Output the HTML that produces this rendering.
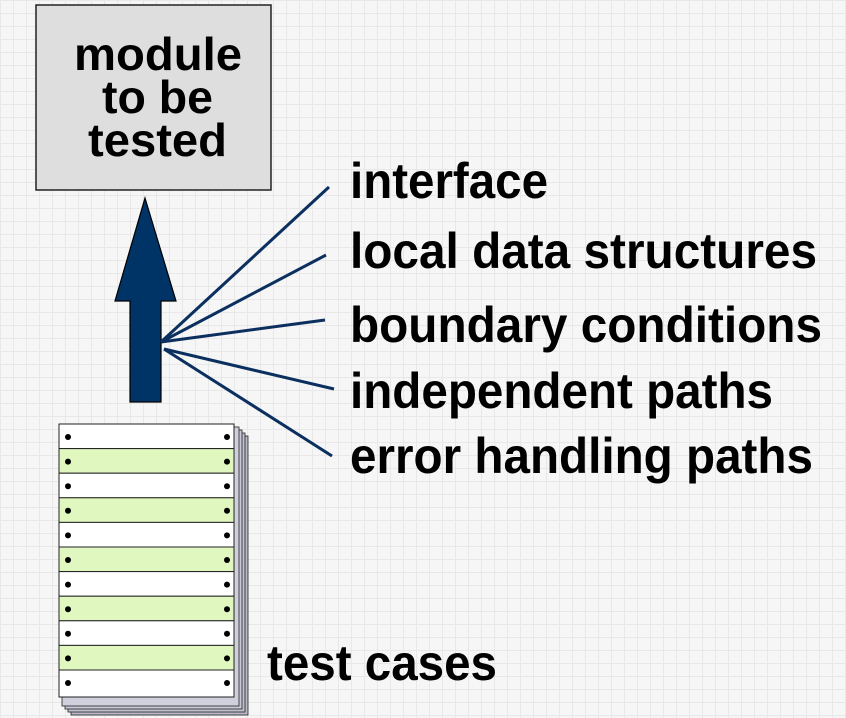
<!DOCTYPE html>
<html><head><meta charset="utf-8"><style>
html,body{margin:0;padding:0}
body{width:846px;height:718px;overflow:hidden;background-color:#f6f6f6;
background-image:linear-gradient(#e8e8e8 1px,transparent 1px),linear-gradient(90deg,#e8e8e8 1px,transparent 1px);background-size:13px 13px;}
</style></head><body>
<svg width="846" height="718" xmlns="http://www.w3.org/2000/svg" style="position:absolute;left:0;top:0">
<rect x="36" y="5" width="235" height="185" fill="#dedede" stroke="#222" stroke-width="1.5"/>
<g font-family="Liberation Sans, sans-serif" font-weight="bold" font-size="46" fill="#000" lengthAdjust="spacingAndGlyphs">
<text x="74" y="70" textLength="168" lengthAdjust="spacingAndGlyphs">module</text>
<text x="102" y="113" textLength="111" lengthAdjust="spacingAndGlyphs">to be</text>
<text x="88" y="156" textLength="139" lengthAdjust="spacingAndGlyphs">tested</text>
</g>
<polygon points="145,198 176,301 161,301 161,402 130,402 130,301 115,301" fill="#003366" stroke="#000" stroke-width="1.2"/>
<g stroke="#0b2f5e" stroke-width="3" fill="none">
<line x1="161" y1="342" x2="329" y2="187"/>
<line x1="161" y1="342" x2="326" y2="255"/>
<line x1="161" y1="342" x2="325" y2="320"/>
<line x1="164" y1="349" x2="334" y2="389"/>
<line x1="164" y1="349" x2="332" y2="456"/>
</g>
<g font-family="Liberation Sans, sans-serif" font-weight="bold" font-size="50" fill="#000">
<text x="350" y="198" textLength="198" lengthAdjust="spacingAndGlyphs">interface</text>
<text x="350" y="268" textLength="467" lengthAdjust="spacingAndGlyphs">local data structures</text>
<text x="350" y="342" textLength="472" lengthAdjust="spacingAndGlyphs">boundary conditions</text>
<text x="350" y="408" textLength="423" lengthAdjust="spacingAndGlyphs">independent paths</text>
<text x="350" y="473" textLength="463" lengthAdjust="spacingAndGlyphs">error handling paths</text>
<text x="267" y="680" textLength="230" lengthAdjust="spacingAndGlyphs">test cases</text>
</g>
<g stroke="#222" stroke-width="0.8">
<rect x="71" y="436" width="177" height="279" fill="#b8b8c8"/>
<rect x="68" y="433" width="177" height="279" fill="#c0c0d0"/>
<rect x="65" y="430" width="177" height="279" fill="#c8c8d8"/>
<rect x="62" y="427" width="177" height="279" fill="#d0d0dc"/>
</g>
<g stroke="#222" stroke-width="1">
<rect x="59" y="424" width="175" height="24.6" fill="#fff"/>
<rect x="59" y="448.6" width="175" height="24.6" fill="#e0f8c0"/>
<rect x="59" y="473.2" width="175" height="24.6" fill="#fff"/>
<rect x="59" y="497.8" width="175" height="24.6" fill="#e0f8c0"/>
<rect x="59" y="522.4" width="175" height="24.6" fill="#fff"/>
<rect x="59" y="547" width="175" height="24.6" fill="#e0f8c0"/>
<rect x="59" y="571.6" width="175" height="24.6" fill="#fff"/>
<rect x="59" y="596.2" width="175" height="24.6" fill="#e0f8c0"/>
<rect x="59" y="620.8" width="175" height="24.6" fill="#fff"/>
<rect x="59" y="645.4" width="175" height="24.6" fill="#e0f8c0"/>
<rect x="59" y="670" width="175" height="27" fill="#fff"/>
</g>
<g fill="#000">
<circle cx="68" cy="437" r="3"/><circle cx="227" cy="437" r="3"/>
<circle cx="68" cy="461.6" r="3"/><circle cx="227" cy="461.6" r="3"/>
<circle cx="68" cy="486.2" r="3"/><circle cx="227" cy="486.2" r="3"/>
<circle cx="68" cy="510.8" r="3"/><circle cx="227" cy="510.8" r="3"/>
<circle cx="68" cy="535.4" r="3"/><circle cx="227" cy="535.4" r="3"/>
<circle cx="68" cy="560" r="3"/><circle cx="227" cy="560" r="3"/>
<circle cx="68" cy="584.6" r="3"/><circle cx="227" cy="584.6" r="3"/>
<circle cx="68" cy="609.2" r="3"/><circle cx="227" cy="609.2" r="3"/>
<circle cx="68" cy="633.8" r="3"/><circle cx="227" cy="633.8" r="3"/>
<circle cx="68" cy="658.4" r="3"/><circle cx="227" cy="658.4" r="3"/>
<circle cx="68" cy="683" r="3"/><circle cx="227" cy="683" r="3"/>
</g>
</svg>
</body></html>
